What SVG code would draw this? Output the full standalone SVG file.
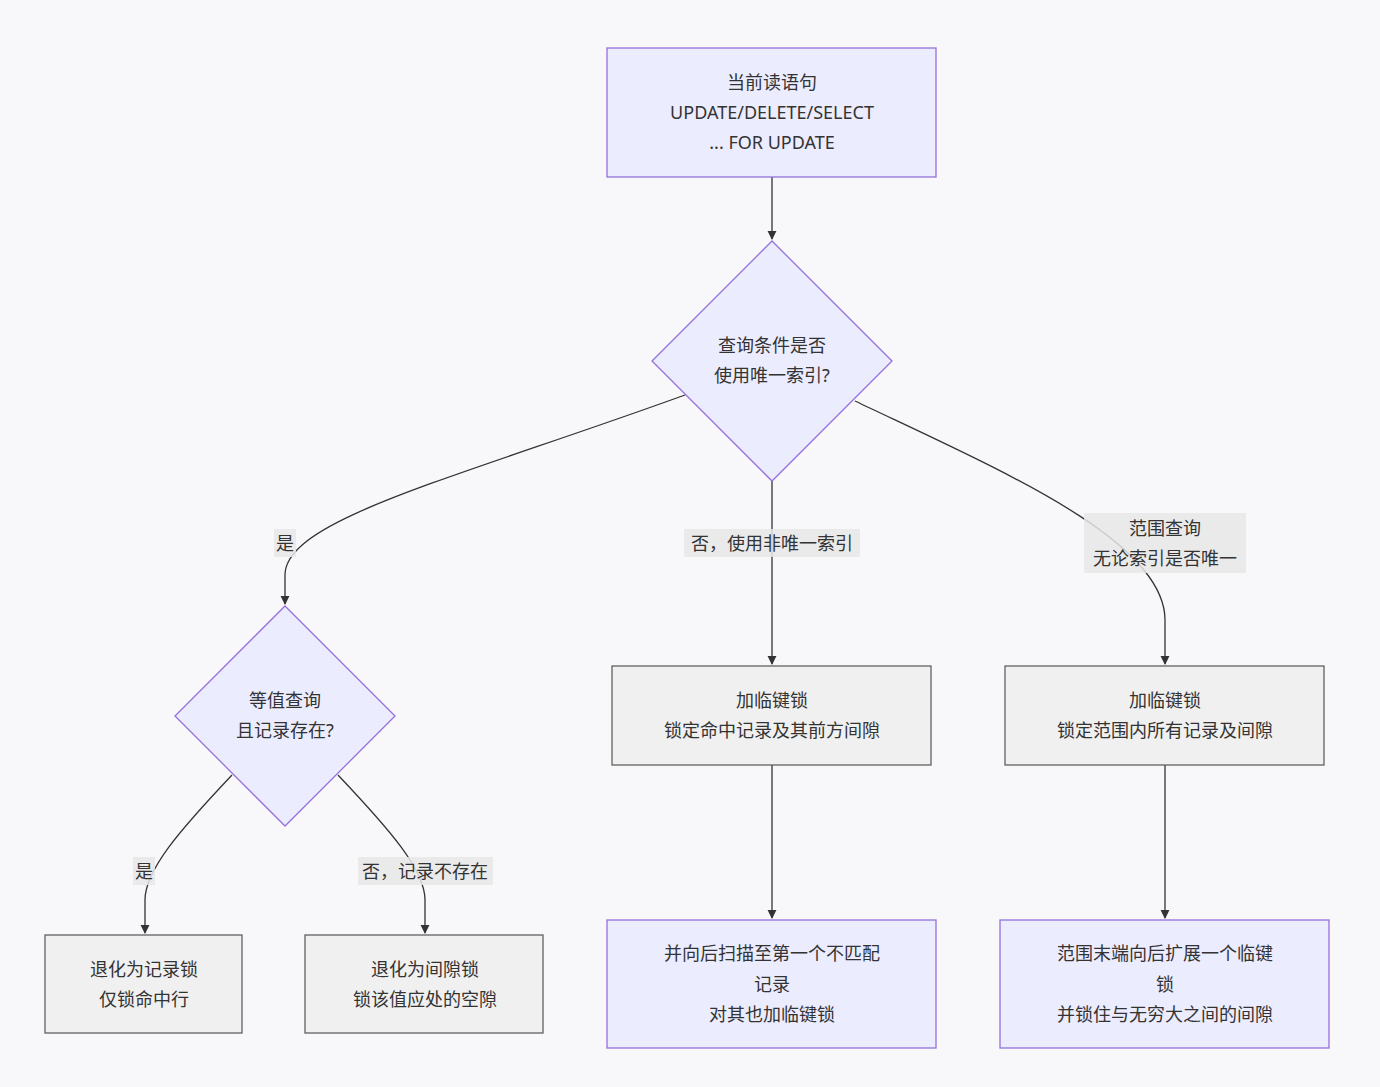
<svg xmlns="http://www.w3.org/2000/svg" width="1380" height="1087" viewBox="0 0 1380 1087">
<style>
text{font-family:"Noto Sans","Noto Sans CJK SC",sans-serif;font-size:18px;fill:#333;text-anchor:middle;dominant-baseline:central}
.p{fill:#ECECFF;stroke:#9370DB;stroke-width:1.3}
.g{fill:#f0f0f0;stroke:#555;stroke-width:1.2}
.e{fill:none;stroke:#333;stroke-width:1.3;marker-end:url(#a)}
.lb{fill:#e8e8e8;opacity:0.85}
</style>
<defs><marker id="a" viewBox="0 0 10 10" refX="9" refY="5" markerWidth="7" markerHeight="7" orient="auto"><path d="M0,0L10,5L0,10z" fill="#333"/></marker></defs>
<rect width="1380" height="1087" fill="#f8f8fb"/>
<g id="edges">
<path class="e" d="M772,177V239"/>
<path class="e" d="M685,395C450,480 285,520 285,575V604"/>
<path class="e" d="M772,481V664"/>
<path class="e" d="M855,401C1000,470 1165,540 1165,620V664"/>
<path class="e" d="M232,775C180,830 145,870 145,900V933"/>
<path class="e" d="M338,775C390,830 425,870 425,900V933"/>
<path class="e" d="M772,765V918"/>
<path class="e" d="M1165,765V918"/>
<rect class="lb" x="274" y="529" width="22" height="28"/><text x="285" y="543">是</text>
<rect class="lb" x="684" y="529" width="176" height="28"/><text x="772" y="543">否，使用非唯一索引</text>
<rect class="lb" x="1084" y="513" width="162" height="60"/><text x="1165" y="528">范围查询</text><text x="1165" y="558">无论索引是否唯一</text>
<rect class="lb" x="133" y="857" width="22" height="28"/><text x="144" y="871">是</text>
<rect class="lb" x="358" y="857" width="135" height="28"/><text x="425" y="871">否，记录不存在</text>
</g>
<g id="n1"><rect class="p" x="607" y="48" width="329" height="129"/><text x="772" y="82">当前读语句</text><text x="772" y="112">UPDATE/DELETE/SELECT</text><text x="772" y="142">... FOR UPDATE</text></g>
<g id="n2"><polygon class="p" points="772,241 892,361 772,481 652,361"/><text x="772" y="345">查询条件是否</text><text x="772" y="375">使用唯一索引?</text></g>
<g id="n3"><polygon class="p" points="285,606 395,716 285,826 175,716"/><text x="285" y="700">等值查询</text><text x="285" y="730">且记录存在?</text></g>
<g id="n4"><rect class="g" x="612" y="666" width="319" height="99"/><text x="772" y="700">加临键锁</text><text x="772" y="730">锁定命中记录及其前方间隙</text></g>
<g id="n5"><rect class="g" x="1005" y="666" width="319" height="99"/><text x="1165" y="700">加临键锁</text><text x="1165" y="730">锁定范围内所有记录及间隙</text></g>
<g id="n6"><rect class="g" x="45" y="935" width="197" height="98"/><text x="144" y="969">退化为记录锁</text><text x="144" y="999">仅锁命中行</text></g>
<g id="n7"><rect class="g" x="305" y="935" width="238" height="98"/><text x="425" y="969">退化为间隙锁</text><text x="425" y="999">锁该值应处的空隙</text></g>
<g id="n8"><rect class="p" x="607" y="920" width="329" height="128"/><text x="772" y="953">并向后扫描至第一个不匹配</text><text x="772" y="984">记录</text><text x="772" y="1014">对其也加临键锁</text></g>
<g id="n9"><rect class="p" x="1000" y="920" width="329" height="128"/><text x="1165" y="953">范围末端向后扩展一个临键</text><text x="1165" y="984">锁</text><text x="1165" y="1014">并锁住与无穷大之间的间隙</text></g>
</svg>
